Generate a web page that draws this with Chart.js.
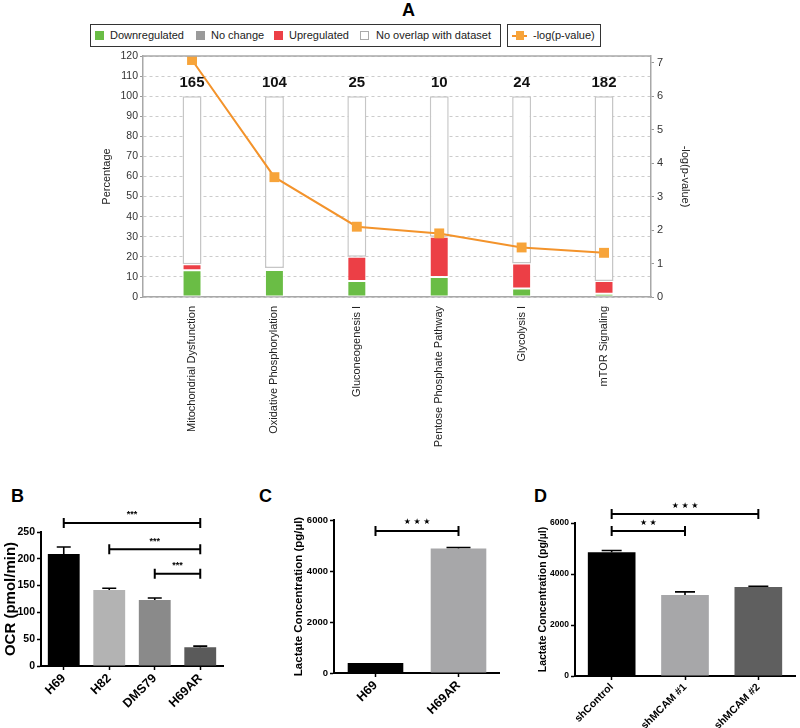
<!DOCTYPE html>
<html><head><meta charset="utf-8">
<script src="https://cdn.jsdelivr.net/npm/chart.js@4.4.1/dist/chart.umd.min.js"></script>
<style>
body{margin:0;background:#fff;width:800px;height:728px;overflow:hidden;position:relative;font-family:"Liberation Sans",Arial,sans-serif;}
canvas{position:absolute;}
.letter{position:absolute;font:bold 18px "Liberation Sans",Arial,sans-serif;color:#000;}
.lbox{position:absolute;border:1.5px solid #333;box-sizing:border-box;height:23px;top:24px;}
.li{position:absolute;top:29px;font:11px "Liberation Sans",Arial,sans-serif;color:#222;line-height:13px;white-space:nowrap;}
.sq{position:absolute;top:31px;width:9px;height:9px;box-sizing:border-box;}
</style></head><body>
<div class="letter" style="left:402px;top:0px;">A</div>
<div class="letter" style="left:11px;top:486px;">B</div>
<div class="letter" style="left:259px;top:486px;">C</div>
<div class="letter" style="left:534px;top:486px;">D</div>
<div id="legendA"></div>
<canvas id="cA" width="800" height="470" style="left:0;top:0"></canvas>
<canvas id="cB" width="250" height="248" style="left:0;top:480px"></canvas>
<canvas id="cC" width="250" height="248" style="left:250px;top:480px"></canvas>
<canvas id="cD" width="310" height="248" style="left:490px;top:480px"></canvas>
<script>
// ---------- Panel A data ----------
const pathways = ['Mitochondrial Dysfunction','Oxidative Phosphorylation','Gluconeogenesis I','Pentose Phosphate Pathway','Glycolysis I','mTOR Signaling'];
const geneCounts = [165,104,25,10,24,182];
const downregulated = [13.3,13.5,8,10,4.2,1.6];
const noChange = [0,0,0,0,0,0];
const upregulated = [3,1,12,20,12.5,6.4];
const noOverlap = pathways.map((p,i)=>100-downregulated[i]-noChange[i]-upregulated[i]);
const negLogP = [7.08,3.58,2.10,1.90,1.48,1.32];
const legendA = ['Downregulated','No change','Upregulated','No overlap with dataset'];
const legendLine = '-log(p-value)';

// ---------- Panel B data ----------
const ocrLines = ['H69','H82','DMS79','H69AR'];
const ocrValues = [209,142,123,35];
const ocrErrors = [13,3,4,2];
const sigB = [{from:0,to:3,at:267,mark:'***'},{from:1,to:3,at:218,mark:'***'},{from:2,to:3,at:172,mark:'***'}];

// ---------- Panel C data ----------
const lacLinesC = ['H69','H69AR'];
const lacValuesC = [390,4880];
const lacErrorsC = [0,40];
const sigC = [{from:0,to:1,at:5570,mark:'★ ★ ★'}];

// ---------- Panel D data ----------
const lacGroupsD = ['shControl','shMCAM #1','shMCAM #2'];
const lacValuesD = [4850,3180,3490];
const lacErrorsD = [70,120,30];
const sigD = [{from:0,to:2,at:6350,mark:'★ ★ ★'},{from:0,to:1,at:5690,mark:'★ ★'}];

const COL = {down:'#6abd45', nc:'#9a9a9a', up:'#ec3f46', none:'#ffffff', line:'#f3932b', pt:'#f7a43a'};

// ---------- Legend A (HTML) ----------
(function(){
  const L = document.getElementById('legendA');
  const sqX = [95,196,274,360], txX = [110,211,289,376];
  const fills = [COL.down, COL.nc, COL.up, COL.none];
  let h = '<div class="lbox" style="left:90px;width:411px"></div><div class="lbox" style="left:507px;width:94px"></div>';
  legendA.forEach((t,i)=>{
    h += `<div class="sq" style="left:${sqX[i]}px;background:${fills[i]};${i===3?'border:1px solid #aaa':''}"></div>`;
    h += `<div class="li" style="left:${txX[i]}px">${t}</div>`;
  });
  h += `<div style="position:absolute;left:512px;top:35px;width:15px;height:2px;background:${COL.line}"></div>`;
  h += `<div style="position:absolute;left:516px;top:31px;width:8px;height:9px;background:${COL.pt}"></div>`;
  h += `<div class="li" style="left:533px">${legendLine}</div>`;
  L.innerHTML = h;
})();

const FONT = '"Liberation Sans", Arial, sans-serif';

// ---------- Panel A ----------
const pluginA = {
  id:'countsA',
  afterDatasetsDraw(chart){
    const {ctx, chartArea} = chart;
    const xs = chart.scales.x, ys = chart.scales.y;
    ctx.save();
    ctx.strokeStyle = '#a8a8a8'; ctx.lineWidth = 1.5;
    ctx.beginPath(); ctx.moveTo(chartArea.left, chartArea.top); ctx.lineTo(chartArea.right, chartArea.top); ctx.stroke();
    ctx.fillStyle = '#111'; ctx.font = 'bold 15px ' + FONT; ctx.textAlign = 'center'; ctx.textBaseline = 'middle';
    geneCounts.forEach((c,i)=>{
      ctx.fillText(String(c), xs.getPixelForValue(i), ys.getPixelForValue(100) - 13);
    });
    ctx.restore();
  }
};
const pts = arr => arr.map((v,i)=>({x:i,y:v}));
const barStyle = {borderColor:'rgba(255,255,255,0.85)', borderWidth:1, borderSkipped:false, barPercentage:0.23, categoryPercentage:1, order:1};
new Chart(document.getElementById('cA'), {
  type:'bar',
  data:{datasets:[
    {type:'line', label:legendLine, data:pts(negLogP), yAxisID:'y2', borderColor:COL.line, backgroundColor:COL.pt, borderWidth:2,
      pointStyle:'rect', pointRadius:7, pointBorderWidth:0, pointBackgroundColor:COL.pt, tension:0, order:0},
    Object.assign({label:legendA[0], data:pts(downregulated), backgroundColor:COL.down, yAxisID:'y'}, barStyle),
    Object.assign({label:legendA[1], data:pts(noChange), backgroundColor:COL.nc, yAxisID:'y'}, barStyle, {borderWidth:0}),
    Object.assign({label:legendA[2], data:pts(upregulated), backgroundColor:COL.up, yAxisID:'y'}, barStyle),
    Object.assign({label:legendA[3], data:pts(noOverlap), backgroundColor:COL.none, yAxisID:'y'}, barStyle, {borderColor:'#c6c6c6', borderWidth:1.5})
  ]},
  options:{
    responsive:false, animation:false, devicePixelRatio:1,
    layout:{padding:{left:96,right:104,top:56,bottom:0}},
    plugins:{legend:{display:false}, tooltip:{enabled:false}},
    scales:{
      x:{type:'linear', min:-0.595, max:5.57, stacked:true, offset:false,
        grid:{display:false}, border:{color:'#a8a8a8', width:1.5},
        ticks:{stepSize:1, includeBounds:false, autoSkip:false, minRotation:90, maxRotation:90, padding:1,
          color:'#222', font:{family:FONT, size:11}, callback:v=>pathways[v] ?? ''},
        afterFit:s=>{s.height=173;}},
      y:{position:'left', stacked:true, min:0, max:120,
        grid:{color:'#cccccc', lineWidth:1, drawTicks:true, tickLength:3, tickColor:'#999'},
        border:{dash:[3,3], color:'#a8a8a8', width:1.5},
        ticks:{stepSize:10, padding:2, color:'#333', font:{family:FONT, size:10.5}},
        title:{display:true, text:'Percentage', color:'#222', font:{family:FONT, size:11}},
        afterFit:s=>{s.width=47;}},
      y2:{position:'right', min:0, max:7.2,
        grid:{drawOnChartArea:false, tickLength:3, tickColor:'#999'},
        border:{color:'#a8a8a8', width:1.5},
        ticks:{stepSize:1, includeBounds:false, padding:3, color:'#333', font:{family:FONT, size:11}},
        title:{display:true, text:legendLine, color:'#222', font:{family:FONT, size:11}},
        afterFit:s=>{s.width=45;}}
    }
  },
  plugins:[pluginA]
});

// ---------- small bar panels ----------
const annotPlugin = {
  id:'annot',
  afterDatasetsDraw(chart, args, o){
    const {ctx} = chart; const xs = chart.scales.x, ys = chart.scales.y;
    const d = chart.data.datasets[0].data;
    ctx.save(); ctx.strokeStyle = '#000'; ctx.fillStyle = '#000';
    (o.errors||[]).forEach((e,i)=>{
      if(!e) return;
      const x = xs.getPixelForValue(i), y0 = ys.getPixelForValue(d[i]), y1 = ys.getPixelForValue(d[i]+e);
      ctx.lineWidth = 1.6;
      ctx.beginPath(); ctx.moveTo(x,y0); ctx.lineTo(x,y1); ctx.moveTo(x-o.cap,y1); ctx.lineTo(x+o.cap,y1); ctx.stroke();
    });
    (o.sig||[]).forEach(s=>{
      const xa = xs.getPixelForValue(s.from), xb = xs.getPixelForValue(s.to), y = ys.getPixelForValue(s.at);
      ctx.lineWidth = 2;
      ctx.beginPath(); ctx.moveTo(xa,y); ctx.lineTo(xb,y);
      ctx.moveTo(xa,y-5); ctx.lineTo(xa,y+5); ctx.moveTo(xb,y-5); ctx.lineTo(xb,y+5); ctx.stroke();
      ctx.font = o.markFont; ctx.textAlign = 'center'; ctx.textBaseline = 'middle';
      ctx.fillText(s.mark, (xa+xb)/2, y - o.markGap);
    });
    ctx.restore();
  }
};

function smallPanel(id, cats, vals, errs, colors, sig, c){
  new Chart(document.getElementById(id), {
    type:'bar',
    data:{labels:cats, datasets:[{data:vals, backgroundColor:colors, borderWidth:0, barPercentage:c.barPct, categoryPercentage:1}]},
    options:{
      responsive:false, animation:false, devicePixelRatio:1,
      layout:{padding:c.pad},
      plugins:{legend:{display:false}, tooltip:{enabled:false},
        annot:{errors:errs, sig:sig, cap:c.cap, markFont:c.markFont, markGap:c.markGap}},
      scales:{
        x:{grid:{display:true, drawOnChartArea:false, offset:false, tickLength:4, tickColor:'#000', tickWidth:1.5},
          border:{color:'#000', width:2},
          ticks:{autoSkip:false, minRotation:45, maxRotation:45, padding:1, color:'#000', font:{family:FONT, size:c.xFont, weight:'bold'}},
          afterFit:s=>{s.height=c.xH;}},
        y:{min:0, max:c.yMax,
          grid:{display:true, drawOnChartArea:false, tickLength:4, tickColor:'#000', tickWidth:1.5},
          border:{color:'#000', width:2},
          ticks:{stepSize:c.yStep, padding:2, color:'#000', font:{family:FONT, size:c.yFont, weight:'bold'}, callback:v=>String(v)},
          title:{display:true, text:c.yTitle, color:'#000', padding:{top:c.tPad, bottom:c.tPad}, font:{family:FONT, size:c.tFont, weight:'bold'}},
          afterFit:s=>{s.width=c.yW;}}
      }
    },
    plugins:[annotPlugin]
  });
}

smallPanel('cB', ocrLines, ocrValues, ocrErrors, ['#000000','#b3b3b3','#8a8a8a','#5a5a5a'], sigB,
  {pad:{left:0,right:27,top:52,bottom:0}, yW:41, xH:62, barPct:0.7, yMax:250, yStep:50, yTitle:'OCR (pmol/min)',
   tFont:15, tPad:2, yFont:10.5, xFont:12.5, cap:7, markFont:'bold 9px '+FONT, markGap:8});

smallPanel('cC', lacLinesC, lacValuesC, lacErrorsC, ['#000000','#a7a7a9'], sigC,
  {pad:{left:38,right:0,top:40,bottom:0}, yW:46, xH:55, barPct:0.67, yMax:6000, yStep:2000, yTitle:'Lactate Concentration (pg/µl)',
   tFont:11.5, tPad:4, yFont:9.5, xFont:12.5, cap:12, markFont:'8px "DejaVu Sans", sans-serif', markGap:9});

smallPanel('cD', lacGroupsD, lacValuesD, lacErrorsD, ['#000000','#a7a7a9','#5f5f5f'], sigD,
  {pad:{left:43,right:5,top:43,bottom:0}, yW:42, xH:52, barPct:0.65, yMax:6000, yStep:2000, yTitle:'Lactate Concentration (pg/µl)',
   tFont:10.5, tPad:4, yFont:8.5, xFont:10.5, cap:10, markFont:'8px "DejaVu Sans", sans-serif', markGap:8});
</script>
</body></html>
